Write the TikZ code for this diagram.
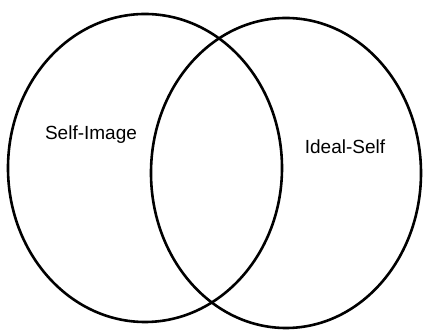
\documentclass[tikz,border=0pt]{standalone}
\usepackage{fontspec}
\setmainfont{Liberation Sans}
\begin{document}
\begin{tikzpicture}[x=1pt,y=-1pt,
  setshape/.style={draw=black,line width=2.6pt},
  setlabel/.style={font=\fontsize{19}{22}\selectfont,inner sep=0pt}]
\useasboundingbox (0,0) rectangle (424,336);
\draw[setshape] (145,168) ellipse [x radius=137, y radius=154];
\draw[setshape] (286,173) ellipse [x radius=135, y radius=155];
\node[setlabel] (selfimage) at (91,135) {Self-Image};
\node[setlabel] (idealself) at (345,147) {Ideal-Self};
\end{tikzpicture}
\end{document}
